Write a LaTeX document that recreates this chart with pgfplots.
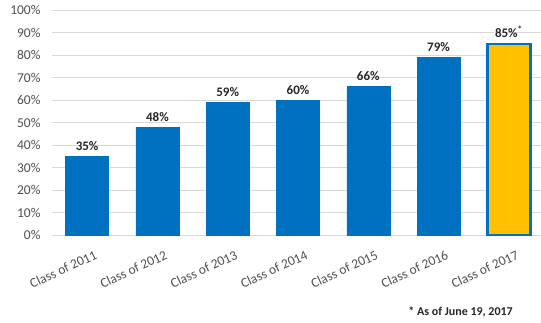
\documentclass[border=0pt]{standalone}
\usepackage{pgfplots}
\pgfplotsset{compat=1.18}
\usepackage{fontspec}
\setmainfont{Carlito}
\definecolor{barblue}{HTML}{0070C0}
\definecolor{bargold}{HTML}{FFC000}
\definecolor{gridgray}{HTML}{D9D9D9}
\definecolor{ticktext}{HTML}{505050}
\definecolor{labtext}{HTML}{262626}
\begin{document}
\begin{tikzpicture}
\path[use as bounding box] (-52pt,-87pt) rectangle (489pt,235pt);
\begin{axis}[
  at={(0pt,0pt)}, anchor=south west,
  scale only axis, width=492pt, height=225pt,
  xmin=-0.5, xmax=6.5, ymin=0, ymax=100,
  axis line style={draw=none},
  ymajorgrids, grid style={gridgray, line width=0.8pt},
  ytick={0,10,...,100},
  yticklabel={\pgfmathprintnumber{\tick}\%},
  xtick={0,...,6},
  xticklabels={Class of 2011,Class of 2012,Class of 2013,Class of 2014,Class of 2015,Class of 2016,Class of 2017},
  xticklabel style={rotate=25, anchor=north east, font=\fontsize{13.5}{15}\selectfont, text=ticktext, inner sep=1pt, yshift=-15pt, xshift=1pt},
  yticklabel style={font=\fontsize{13.5}{15}\selectfont, text=ticktext, xshift=-8pt},
  /pgf/number format/assume math mode=true,
  major tick length=0pt,
  ybar, bar width=43pt,
  nodes near coords={\pgfmathprintnumber{\pgfplotspointmeta}\%},
  nodes near coords style={font=\bfseries\fontsize{13}{15}\selectfont, text=labtext, yshift=2pt},
  clip=false,
]
\addplot[fill=barblue, draw=barblue, bar shift=0pt] coordinates {(0,35) (1,48) (2,59) (3,60) (4,66) (5,79)};
\addplot[fill=bargold, draw=barblue, line width=2.5pt, bar shift=0pt,
  nodes near coords={\pgfmathprintnumber{\pgfplotspointmeta}\%\textsuperscript{*}}] coordinates {(6,85)};
\end{axis}
\node[anchor=base east, inner sep=0pt, font=\bfseries\fontsize{12}{14}\selectfont, text=labtext] at (461pt,-80pt) {* As of June 19, 2017};
\end{tikzpicture}
\end{document}
